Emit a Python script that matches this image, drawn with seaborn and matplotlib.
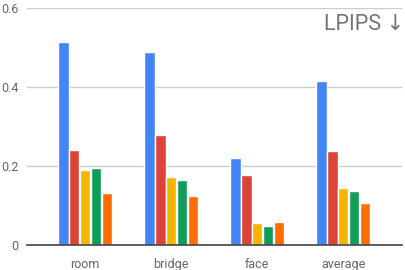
import matplotlib
matplotlib.use("Agg")
import matplotlib.pyplot as plt
import pandas as pd
import seaborn as sns

scenes = ["room", "bridge", "face", "average"]
methods = ["m1", "m2", "m3", "m4", "m5"]
lpips = {
    "m1": [0.514, 0.489, 0.221, 0.415],
    "m2": [0.240, 0.278, 0.177, 0.238],
    "m3": [0.191, 0.174, 0.056, 0.144],
    "m4": [0.196, 0.166, 0.050, 0.137],
    "m5": [0.132, 0.124, 0.058, 0.108],
}
colors = ["#4285F4", "#DB4437", "#F4B400", "#0F9D58", "#FF6D00"]

rows = []
for m in methods:
    for s, v in zip(scenes, lpips[m]):
        rows.append({"scene": s, "method": m, "lpips": v})
df = pd.DataFrame(rows)

sns.set_theme(style="white")
plt.rcParams['font.family'] = ['Roboto', 'DejaVu Sans']

fig = plt.figure(figsize=(4.06, 2.70), dpi=100)
ax = fig.add_axes([0.0665, 0.0915, 0.924, 0.878])
sns.barplot(data=df, x="scene", y="lpips", hue="method", order=scenes,
            hue_order=methods, palette=colors, width=0.63, gap=0.03,
            errorbar=None, legend=False, ax=ax, saturation=1)

ax.set_ylim(0, 0.6)
ax.set_xlim(-0.675, 3.685)
ax.set_yticks([0, 0.2, 0.4, 0.6])
ax.set_yticklabels(["0", "0.2", "0.4", "0.6"])
ax.yaxis.grid(True, color="#cccccc", linewidth=1)
ax.set_axisbelow(True)
ax.set_xlabel("")
ax.set_ylabel("")
for side in ["top", "right", "left"]:
    ax.spines[side].set_visible(False)
ax.spines["bottom"].set_color("#444444")
ax.spines["bottom"].set_linewidth(1.2)
ax.tick_params(axis="both", length=0, labelsize=9, colors="#666666")
ax.tick_params(axis="x", pad=9)
ax.tick_params(axis="y", pad=6)

ax.text(1.005, 0.975, "LPIPS ↓", transform=ax.transAxes, ha="right", va="top",
        fontsize=15.5, color="#757575")

fig.savefig("out.png", dpi=100)
